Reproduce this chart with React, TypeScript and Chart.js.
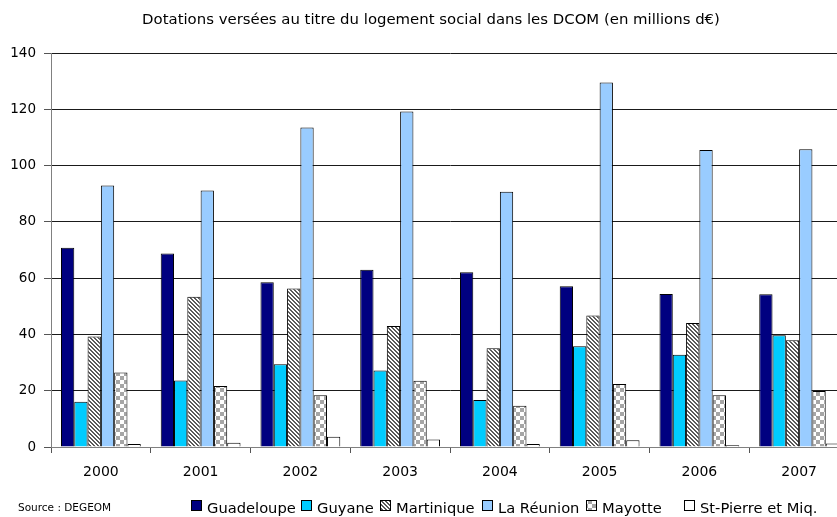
import React, { useEffect, useRef } from "react";
import { Chart, registerables } from "chart.js";

Chart.register(...registerables);

const years = ["2000", "2001", "2002", "2003", "2004", "2005", "2006", "2007"];
const guadeloupe = [70.8, 68.8, 58.5, 63.0, 62.1, 57.1, 54.4, 54.3];
const guyane = [16.1, 23.6, 29.4, 27.2, 16.7, 35.8, 32.8, 39.7];
const martinique = [39.3, 53.4, 56.3, 43.0, 35.1, 46.7, 44.1, 37.9];
const reunion = [92.9, 91.1, 113.5, 119.2, 90.7, 129.5, 105.5, 105.8];
const mayotte = [26.5, 21.7, 18.4, 23.5, 14.7, 22.4, 18.4, 19.9];
const stPierre = [1.1, 1.5, 3.6, 2.7, 1.1, 2.4, 0.6, 1.2];
const yTicks = [0, 20, 40, 60, 80, 100, 120, 140];

const titleText = "Dotations versées au titre du logement social dans les DCOM (en millions d€)";
const sourceText = "Source : DEGEOM";
const FONT = "'DejaVu Sans', Verdana, sans-serif";

// legend layout (box left edges, px)
const LEGEND_X = [191, 301, 380, 482, 586, 684];

function makeHatch(): CanvasPattern | string {
  const c = document.createElement("canvas");
  c.width = 8;
  c.height = 8;
  const ctx = c.getContext("2d");
  if (!ctx) return "#888";
  ctx.fillStyle = "#ffffff";
  ctx.fillRect(0, 0, 8, 8);
  ctx.fillStyle = "#5a5a5a";
  for (let y = 0; y < 8; y++) {
    for (let x = 0; x < 8; x++) {
      if ((((x - y) % 4) + 4) % 4 < 2) ctx.fillRect(x, y, 1, 1);
    }
  }
  return ctx.createPattern(c, "repeat") as CanvasPattern;
}

function makeChecker(): CanvasPattern | string {
  const c = document.createElement("canvas");
  c.width = 8;
  c.height = 8;
  const ctx = c.getContext("2d");
  if (!ctx) return "#aaa";
  ctx.fillStyle = "#ffffff";
  ctx.fillRect(0, 0, 8, 8);
  ctx.fillStyle = "#a6a6a6";
  ctx.fillRect(0, 0, 4, 4);
  ctx.fillRect(4, 4, 4, 4);
  return ctx.createPattern(c, "repeat") as CanvasPattern;
}

export default function App() {
  const ref = useRef<HTMLCanvasElement | null>(null);

  useEffect(() => {
    const canvas = ref.current;
    if (!canvas) return;
    const hatch = makeHatch();
    const checker = makeChecker();

    const series = [
      { label: "Guadeloupe", data: guadeloupe, fill: "#000080" as any },
      { label: "Guyane", data: guyane, fill: "#00ccff" as any },
      { label: "Martinique", data: martinique, fill: hatch },
      { label: "La Réunion", data: reunion, fill: "#99ccff" as any },
      { label: "Mayotte", data: mayotte, fill: checker },
      { label: "St-Pierre et Miq.", data: stPierre, fill: "#ffffff" as any },
    ];

    const extras = {
      id: "extras",
      afterDraw(chart: any) {
        const ctx = chart.ctx as CanvasRenderingContext2D;
        ctx.save();
        ctx.fillStyle = "#000";
        ctx.font = `14.9px ${FONT}`;
        ctx.textAlign = "center";
        ctx.textBaseline = "middle";
        ctx.fillText(titleText, 431, 20);

        ctx.font = `10.5px ${FONT}`;
        ctx.textAlign = "left";
        ctx.fillText(sourceText, 18, 508);

        ctx.font = `14.7px ${FONT}`;
        series.forEach((s, i) => {
          const x = LEGEND_X[i];
          ctx.fillStyle = s.fill;
          ctx.fillRect(x, 500, 11, 11);
          ctx.strokeStyle = "#000";
          ctx.lineWidth = 1;
          ctx.strokeRect(x + 0.5, 500.5, 10, 10);
          ctx.fillStyle = "#000";
          ctx.fillText(s.label, x + 16, 509);
        });
        ctx.restore();
      },
    };

    const chart = new Chart(canvas, {
      type: "bar",
      data: {
        labels: years,
        datasets: series.map((s) => ({
          label: s.label,
          data: s.data,
          backgroundColor: s.fill,
          borderColor: "#000000",
          borderWidth: 1,
          categoryPercentage: 0.8,
          barPercentage: 1.0,
        })),
      },
      options: {
        responsive: false,
        animation: false,
        devicePixelRatio: 1,
        layout: { padding: { top: 53, left: 0, right: 0, bottom: 0 } },
        plugins: {
          legend: { display: false },
          title: { display: false },
          tooltip: { enabled: false },
        },
        scales: {
          x: {
            grid: {
              offset: true,
              drawOnChartArea: false,
              tickLength: 6,
              color: "#555555",
            },
            border: { color: "#808080", width: 1 },
            ticks: {
              color: "#000",
              font: { family: FONT, size: 14 },
              padding: 11,
              maxRotation: 0,
            },
            afterFit: (s: any) => {
              s.height = 70;
            },
          },
          y: {
            min: 0,
            max: 140,
            afterBuildTicks: (s: any) => {
              s.ticks = yTicks.map((v) => ({ value: v }));
            },
            grid: {
              color: "#1a1a1a",
              tickLength: 7,
              tickColor: "#555555",
            },
            border: { color: "#808080", width: 1 },
            ticks: {
              color: "#000",
              font: { family: FONT, size: 13.5 },
              padding: 8,
            },
            afterFit: (s: any) => {
              s.width = 51;
            },
          },
        },
      },
      plugins: [extras],
    });
    return () => chart.destroy();
  }, []);

  return (
    <div
      style={{
        position: "fixed",
        left: 0,
        top: 0,
        width: 837,
        height: 517,
        overflow: "hidden",
        background: "#fff",
      }}
    >
      <canvas ref={ref} width={849} height={517} style={{ width: 849, height: 517, display: "block" }} />
    </div>
  );
}
